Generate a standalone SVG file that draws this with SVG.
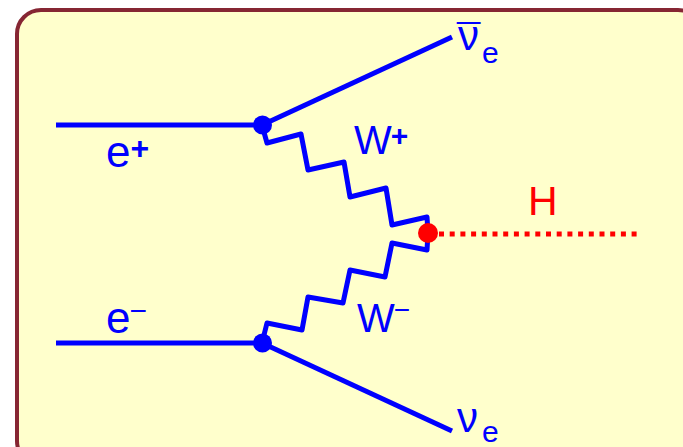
<svg xmlns="http://www.w3.org/2000/svg" width="683" height="447" viewBox="0 0 683 447">
<style>
.f{fill:none;stroke:#0000FF;stroke-width:5;stroke-linecap:butt}
.w{fill:none;stroke:#0000FF;stroke-width:5;stroke-linejoin:round;stroke-linecap:round}
.t{font-family:"Liberation Sans",Arial,sans-serif;fill:#0000FF}
.r{fill:#FF0000}
</style>
<rect x="17" y="10" width="685" height="455" rx="24" ry="24" fill="#FFFFCC" stroke="#862633" stroke-width="4"/>
<g id="connectors">
<line class="f" x1="56" y1="125" x2="262" y2="125"/>
<line class="f" x1="56" y1="343" x2="262" y2="343"/>
<line class="f" x1="262" y1="125" x2="452" y2="37"/>
<line class="f" x1="262" y1="343" x2="452" y2="431"/>
<path class="w" d="M262,125 L267,143 L301,134 L308,170 L344,162 L350,197 L386,188 L392,225 L427,217 L428,233"/>
<path class="w" d="M262,343 L267,323 L302,330 L308,297 L343,303 L350,270 L385,277 L392,243 L427,250 L428,233"/>
<line x1="439" y1="234" x2="640" y2="234" stroke="#FF0000" stroke-width="5" stroke-dasharray="5 5.7"/>
</g>
<g id="v1"><circle cx="262.5" cy="125" r="9.5" fill="#0000FF"/></g>
<g id="v2"><circle cx="262.5" cy="343" r="9.5" fill="#0000FF"/></g>
<g id="v3"><circle cx="428" cy="233" r="10" fill="#FF0000"/></g>
<g id="l_ep"><text class="t" x="106" y="167" font-size="44">e<tspan dy="-8" font-size="32" font-weight="bold">+</tspan></text></g>
<g id="l_em"><text class="t" x="106" y="333" font-size="44">e<tspan dx="-1" dy="-12" font-size="30">−</tspan></text></g>
<g id="l_wp"><text class="t" x="354" y="154" font-size="40">W<tspan dx="-1" dy="-8" font-size="30" font-weight="bold">+</tspan></text></g>
<g id="l_wm"><text class="t" x="357" y="332" font-size="40">W<tspan dx="-1" dy="-13" font-size="28">−</tspan></text></g>
<g id="l_h"><text class="t r" x="528" y="215" font-size="41">H</text></g>
<g id="l_nub"><text class="t" x="457" y="50" font-size="42">ν<tspan dx="-22" dy="4">¯</tspan><tspan x="482" y="63" font-size="30">e</tspan></text></g>
<g id="l_nu"><text class="t" x="457" y="432" font-size="42">ν<tspan x="482" y="442" font-size="30">e</tspan></text></g>
</svg>
